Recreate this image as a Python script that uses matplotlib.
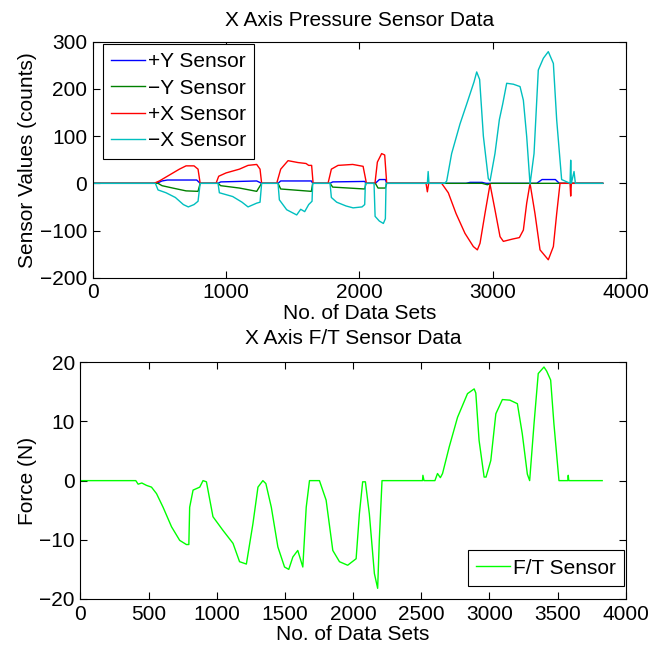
import numpy as np
import matplotlib
matplotlib.use("Agg")
import matplotlib.pyplot as plt

# --- pressure sensor data (breakpoints) ---
px_x = [0, 460, 500, 560, 650, 700, 760, 790, 806, 925, 945, 1000, 1100, 1165, 1230, 1255, 1267,
        1380, 1410, 1465, 1540, 1600, 1620, 1642, 1653, 1765, 1790, 1840, 1950, 2028, 2053,
        2117, 2135, 2167, 2190, 2205, 2500, 2510, 2520, 2617, 2667, 2725, 2792, 2855, 2885, 2905,
        2942, 2980, 3017, 3055, 3080, 3150, 3200, 3230, 3255, 3280, 3317, 3355, 3417, 3455, 3480,
        3505, 3580, 3585, 3590, 3825]
px_y = [0, 0, 5, 15, 30, 37, 37, 30, 0, 0, 15, 22, 30, 38, 40, 30, 0,
        0, 30, 48, 44, 42, 38, 38, 0, 0, 30, 38, 40, 36, 0,
        0, 45, 63, 60, 0, 0, -18, 0, 0, -20, -64, -106, -134, -141, -127,
        -64, -2, -56, -113, -123, -118, -115, -99, -42, 0, -64, -141, -162, -134, -64,
        0, 0, -27, 0, 0]

nx_x = [0, 470, 490, 550, 620, 680, 717, 760, 790, 806, 940, 950, 1050, 1120, 1165, 1230, 1255, 1267,
        1390, 1400, 1455, 1530, 1560, 1590, 1620, 1645, 1650, 1780, 1790, 1830, 1900, 1953, 2020,
        2040, 2045, 2110, 2118, 2150, 2180, 2195, 2200, 2510, 2516, 2522, 2640, 2655, 2692, 2755,
        2805, 2860, 2880, 2902, 2930, 2967, 2980, 3017, 3050, 3075, 3105, 3155, 3205, 3230, 3255,
        3280, 3310, 3342, 3380, 3417, 3455, 3480, 3517, 3580, 3585, 3590, 3610, 3620, 3825]
nx_y = [0, 0, -14, -20, -30, -45, -50, -45, -38, 0, 0, -20, -28, -40, -50, -42, -40, 0,
        0, -35, -56, -67, -55, -60, -45, -38, 0, 0, -30, -40, -48, -52, -50,
        -45, 0, 0, -70, -80, -85, -75, 0, 0, 25, 0, 0, 5, 63, 126,
        168, 215, 236, 220, 100, 10, 5, 63, 135, 168, 212, 210, 205, 176, 99,
        -2, 63, 240, 265, 279, 254, 134, 8, 0, 49, 0, 25, 0, 0]

py_x = [0, 480, 520, 560, 780, 806, 940, 960, 1230, 1267, 1390, 1410, 1640, 1650, 1780, 1800,
        2040, 2050, 2120, 2150, 2195, 2205, 2800, 2830, 2920, 2950, 3330, 3370, 3470, 3500, 3825]
py_y = [0, 0, 5, 7, 7, 0, 0, 3, 5, 0, 0, 5, 5, 0, 0, 3,
        4, 0, 0, 8, 8, 0, 0, 2, 2, 0, 0, 8, 8, 0, 0]

ny_x = [0, 490, 520, 600, 700, 790, 806, 940, 960, 1100, 1230, 1267, 1390, 1410, 1640, 1650,
        1780, 1800, 2040, 2050, 2120, 2140, 2195, 2205, 2920, 2960, 2990, 3825]
ny_y = [0, 0, -5, -10, -16, -17, 0, 0, -5, -10, -17, 0, 0, -12, -17, 0,
        0, -8, -12, 0, 0, -10, -10, 0, 0, -3, 0, 0]

# --- F/T sensor data ---
ft_x = [0, 406, 423, 450, 484, 521, 558, 606, 668, 728, 777, 795, 801, 826, 875, 899, 924, 972,
        1045, 1119, 1167, 1217, 1265, 1302, 1338, 1360, 1400, 1448, 1497, 1528, 1558, 1594, 1631,
        1656, 1680, 1753, 1802, 1851, 1900, 1960, 2022, 2046, 2070, 2090, 2119, 2156, 2180, 2192,
        2212, 2509, 2512, 2520, 2600, 2619, 2640, 2656, 2705, 2766, 2839, 2888, 2900, 2924, 2961,
        2975, 3010, 3047, 3095, 3150, 3205, 3241, 3278, 3295, 3327, 3358, 3400, 3420, 3449, 3473,
        3510, 3575, 3578, 3582, 3827]
ft_y = [0, 0, -0.6, -0.4, -0.8, -1.1, -2.2, -4.5, -7.8, -10.1, -10.8, -10.8, -4.5, -1.6, -1.1, 0, -0.2, -6.1,
        -8.4, -10.6, -13.7, -14.1, -7.3, -1.1, 0, -0.5, -4.5, -11.2, -14.6, -15, -12.9, -11.8, -14.6,
        -4.5, 0, 0, -3.3, -11.8, -13.7, -14.3, -13.2, -5.6, -0.2, -0.2, -5.6, -15.7, -18.2, -10.1,
        0, 0, 0.9, 0, 0, 1.2, 0.5, 1.2, 5.7, 10.7, 14.7, 15.5, 14.8, 6.8, 0.6,
        0.6, 3.4, 11.3, 13.7, 13.6, 13, 7.9, 1.1, 0, 9.6, 18.1, 19.2, 18.5, 17, 9.6,
        0, 0, 0.9, 0, 0]

plt.rcParams['font.family'] = 'Liberation Sans'
plt.rcParams['font.size'] = 15

fig = plt.figure(figsize=(6.65, 6.46), dpi=100)

def matlab_axes(ax):
    ax.tick_params(direction='in', top=True, right=True, length=5, width=0.8, pad=4)
    for s in ax.spines.values():
        s.set_linewidth(0.8)

ax1 = fig.add_axes([0.1394, 0.5701, 0.8020, 0.3653])
ax1.plot(py_x, py_y, color=(0, 0, 1), lw=1.0, label='+Y Sensor')
ax1.plot(ny_x, ny_y, color=(0, 0.5, 0), lw=1.0, label='\u2212Y Sensor')
ax1.plot(px_x, px_y, color=(1, 0, 0), lw=1.0, label='+X Sensor')
ax1.plot(nx_x, nx_y, color=(0, 0.75, 0.75), lw=1.0, label='\u2212X Sensor')
ax1.set_xlim(0, 4000)
ax1.set_ylim(-200, 300)
ax1.set_xticks([0, 1000, 2000, 3000, 4000])
ax1.set_yticks([-200, -100, 0, 100, 200, 300])
ax1.set_yticklabels(['\u2212200', '\u2212100', '0', '100', '200', '300'])
ax1.set_title('X Axis Pressure Sensor Data', fontsize=15, pad=11)
ax1.set_xlabel('No. of Data Sets', labelpad=1)
ax1.set_ylabel('Sensor Values (counts)', labelpad=2)
matlab_axes(ax1)
leg = ax1.legend(loc='upper left', bbox_to_anchor=(0.019, 0.99), fancybox=False,
                 edgecolor='black', framealpha=1, handlelength=1.6, handletextpad=0.15,
                 labelspacing=0.35, borderpad=0.4, borderaxespad=0)
leg.get_frame().set_linewidth(0.8)

ax2 = fig.add_axes([0.1210, 0.0728, 0.8200, 0.3664])
ax2.plot(ft_x, ft_y, color=(0, 1, 0), lw=1.0, label='F/T Sensor')
ax2.set_xlim(0, 4000)
ax2.set_ylim(-20, 20)
ax2.set_xticks(np.arange(0, 4001, 500))
ax2.set_yticks([-20, -10, 0, 10, 20])
ax2.set_yticklabels(['\u221220', '\u221210', '0', '10', '20'])
ax2.set_title('X Axis F/T Sensor Data', fontsize=15, pad=13)
ax2.set_xlabel('No. of Data Sets', labelpad=1)
ax2.set_ylabel('Force (N)', labelpad=2)
matlab_axes(ax2)
leg2 = ax2.legend(loc='lower right', bbox_to_anchor=(0.997, 0.055), fancybox=False,
                  edgecolor='black', framealpha=1, handlelength=1.6, handletextpad=0.15,
                  borderpad=0.4, borderaxespad=0)
leg2.get_frame().set_linewidth(0.8)

fig.savefig('out.png', dpi=100)
